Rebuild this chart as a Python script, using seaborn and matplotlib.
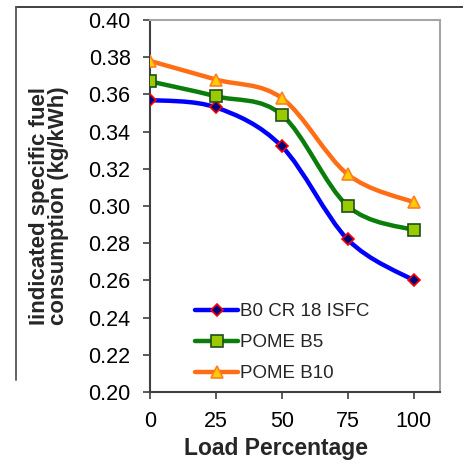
import numpy as np
import pandas as pd
import matplotlib
matplotlib.use("Agg")
import matplotlib.pyplot as plt
import seaborn as sns
from matplotlib.path import Path
from matplotlib.patches import PathPatch
from matplotlib.lines import Line2D

load = [0, 25, 50, 75, 100]
b0_cr18 = [0.357, 0.353, 0.332, 0.282, 0.260]
pome_b5 = [0.367, 0.359, 0.349, 0.300, 0.287]
pome_b10 = [0.378, 0.368, 0.358, 0.317, 0.302]
series_names = ["B0 CR 18 ISFC", "POME B5", "POME B10"]
yticks = [0.20, 0.22, 0.24, 0.26, 0.28, 0.30, 0.32, 0.34, 0.36, 0.38, 0.40]
xticks = [0, 25, 50, 75, 100]

sns.set_style("ticks")
plt.rcParams['font.family'] = ['Liberation Sans', 'DejaVu Sans']

styles = [
    dict(color="#0000ff", marker="D", mfc="#000080", mec="#ff0000", ms=6.5, mew=1.2),
    dict(color="#0a7d0a", marker="s", mfc="#99cc00", mec="#1e4d1e", ms=8.5, mew=1.2),
    dict(color="#ff6e14", marker="^", mfc="#ffcc00", mec="#ff7f27", ms=9, mew=1.2),
]

rows = []
for name, vals in zip(series_names, [b0_cr18, pome_b5, pome_b10]):
    for x, y in zip(load, vals):
        rows.append(dict(series=name, load=x, value=y))
df = pd.DataFrame(rows)

fig = plt.figure(figsize=(4.64, 4.67), dpi=100)
ax = fig.add_axes([150 / 464, 1 - 392 / 467, 290 / 464, 372 / 467])


def smooth_path(xs, ys):
    pts = np.column_stack([xs, ys]).astype(float)
    n = len(pts)
    verts = [pts[0]]
    codes = [Path.MOVETO]
    for i in range(n - 1):
        p0 = pts[i - 1] if i > 0 else pts[i]
        p1 = pts[i]
        p2 = pts[i + 1]
        p3 = pts[i + 2] if i + 2 < n else pts[i + 1]
        c1 = p1 + (p2 - p0) / 6.0
        c2 = p2 - (p3 - p1) / 6.0
        verts += [c1, c2, p2]
        codes += [Path.CURVE4] * 3
    return Path(verts, codes)


handles = []
for name, st in zip(series_names, styles):
    sub = df[df.series == name]
    patch = PathPatch(smooth_path(sub["load"].values, sub["value"].values),
                      fill=False, edgecolor=st["color"], lw=3.2,
                      capstyle="round", joinstyle="round", zorder=2)
    ax.add_patch(patch)
    sns.lineplot(data=sub, x="load", y="value", ax=ax, linestyle="",
                 marker=st["marker"], markersize=st["ms"],
                 markerfacecolor=st["mfc"], markeredgecolor=st["mec"],
                 markeredgewidth=st["mew"], color=st["color"], zorder=3,
                 legend=False, errorbar=None)
    handles.append(Line2D([0], [0], color=st["color"], lw=3.2,
                          marker=st["marker"], markersize=st["ms"],
                          markerfacecolor=st["mfc"], markeredgecolor=st["mec"],
                          markeredgewidth=st["mew"]))

ax.set_xlim(0, 110)
ax.set_ylim(0.20, 0.40)
ax.set_xticks(xticks)
ax.set_xticklabels([str(v) for v in xticks])
ax.set_yticks(yticks)
ax.set_yticklabels([f"{v:.2f}" for v in yticks])
ax.tick_params(axis="both", direction="out", length=5, width=1.2,
               color="#404040", labelsize=15.5, labelcolor="black")
ax.tick_params(axis="y", pad=9)
ax.tick_params(axis="x", pad=9)

for side in ["left", "bottom"]:
    ax.spines[side].set_color("#404040")
    ax.spines[side].set_linewidth(1.5)
for side in ["top", "right"]:
    ax.spines[side].set_visible(True)
    ax.spines[side].set_color("#a6a6a6")
    ax.spines[side].set_linewidth(1.5)

ax.set_xlabel("Load Percentage", fontsize=16.5, fontweight="bold")
ax.set_ylabel("Iindicated specific fuel\nconsumption (kg/kWh)", fontsize=16,
              fontweight="bold", linespacing=0.88)
ax.xaxis.set_label_coords((276 - 150) / 290, -(45) / 372)
ax.yaxis.set_label_coords(-(150 - 69) / 290, 0.5)

leg = ax.legend(handles, series_names, loc="lower left",
                bbox_to_anchor=((188 - 150) / 290, (392 - 390) / 372),
                frameon=False, fontsize=13.5, handlelength=2.25,
                handletextpad=0.15, labelspacing=0.75, borderaxespad=0)

fig.add_artist(Line2D([16 / 464, 1.0], [1 - 7 / 467, 1 - 7 / 467],
                      transform=fig.transFigure, color="#333333", lw=1.3))
fig.add_artist(Line2D([16 / 464, 16 / 464], [1 - 7 / 467, 1 - 380 / 467],
                      transform=fig.transFigure, color="#555555", lw=1.3))

fig.savefig("out.png", dpi=100)
